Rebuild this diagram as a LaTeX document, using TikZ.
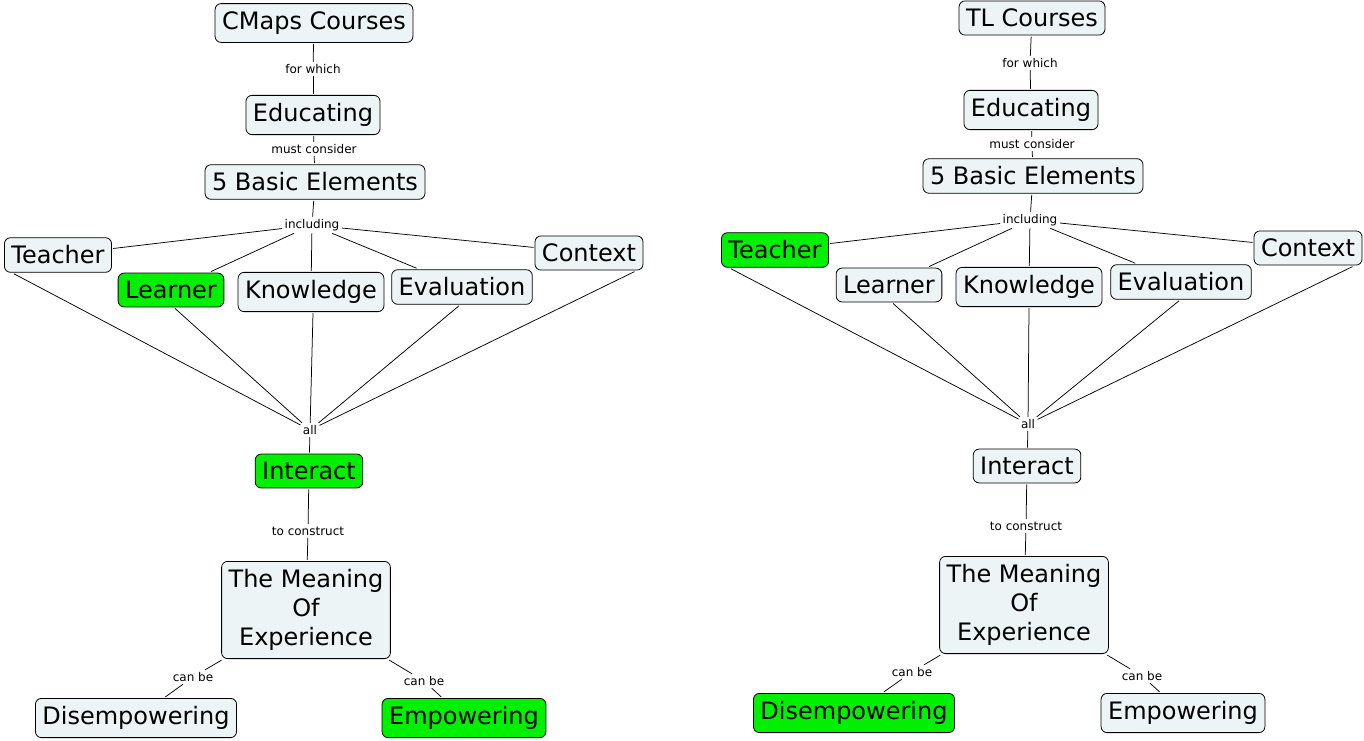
\documentclass[tikz,border=0pt]{standalone}
\usepackage{fontspec}
\setmainfont{DejaVu Sans}
\definecolor{cfill}{RGB}{237,244,246}
\definecolor{cgreen}{RGB}{0,240,0}
\begin{document}
\begin{tikzpicture}[x=1pt,y=-1pt,
  concept/.style={draw=black, line width=0.8pt, rounded corners=6pt, fill=cfill,
    inner xsep=7pt, inner ysep=8pt, outer sep=1.5pt,
    font=\fontsize{24}{29}\selectfont, align=center},
  hot/.style={concept, fill=cgreen},
  lbl/.style={inner sep=2.5pt, outer sep=0pt, font=\fontsize{12}{13}\selectfont},
  conn/.style={draw=black, line width=0.75pt}]
\useasboundingbox[fill=white] (0,0) rectangle (1364,740);

% ---------------- left map ----------------
\node[concept] (cc) at (314,23) {CMaps Courses};
\node[lbl] (fw) at (313,69) {for which};
\node[concept] (ed) at (313,115) {Educating};
\node[lbl] (mc) at (314,149) {must consider};
\node[concept] (be) at (315,182) {5 Basic Elements};
\node[lbl] (inc) at (312,225) {including};
\node[concept] (te) at (58,255) {Teacher};
\node[hot] (le) at (171,290) {Learner};
\node[concept] (kn) at (311,292) {Knowledge};
\node[concept] (ev) at (462,287) {Evaluation};
\node[concept] (co) at (589,253) {Context};
\node[lbl] (all) at (310,430) {all};
\node[hot] (in) at (309,471) {Interact};
\node[lbl] (tc) at (308,531) {to construct};
\node[concept] (me) at (306,610) {The Meaning\\Of\\Experience};
\node[lbl] (cba) at (193,677) {can be};
\node[lbl] (cbb) at (424,681) {can be};
\node[concept] (di) at (136,718) {Disempowering};
\node[hot] (em) at (464,718) {Empowering};

\draw[conn] (cc) -- (fw);
\draw[conn] (fw) -- (ed);
\draw[conn] (ed) -- (mc);
\draw[conn] (mc) -- (be);
\draw[conn] (be) -- (inc);
\draw[conn] (inc) -- (te);
\draw[conn] (inc) -- (le);
\draw[conn] (inc) -- (kn);
\draw[conn] (inc) -- (ev);
\draw[conn] (inc) -- (co);
\draw[conn] ([xshift=11pt]te.south west) -- (all);
\draw[conn] ([xshift=4pt]le.south) -- (all);
\draw[conn] ([xshift=2pt]kn.south) -- (all);
\draw[conn] ([xshift=-3pt]ev.south) -- (all);
\draw[conn] ([xshift=-10pt]co.south east) -- (all);
\draw[conn] (all) -- (in);
\draw[conn] (in) -- (tc);
\draw[conn] (tc) -- (me);
\draw[conn] (me) -- (cba);
\draw[conn] (cba) -- (di);
\draw[conn] (me) -- (cbb);
\draw[conn] (cbb) -- (em);

% ---------------- right map ----------------
\node[concept] (rcc) at (1032,18) {TL Courses};
\node[lbl] (rfw) at (1030,63) {for which};
\node[concept] (red) at (1031,110) {Educating};
\node[lbl] (rmc) at (1032,144) {must consider};
\node[concept] (rbe) at (1033,176) {5 Basic Elements};
\node[lbl] (rinc) at (1030,220) {including};
\node[hot] (rte) at (775,250) {Teacher};
\node[concept] (rle) at (889,285) {Learner};
\node[concept] (rkn) at (1029,287) {Knowledge};
\node[concept] (rev) at (1181,282) {Evaluation};
\node[concept] (rco) at (1308,248) {Context};
\node[lbl] (rall) at (1028,424) {all};
\node[concept] (rin) at (1027,466) {Interact};
\node[lbl] (rtc) at (1026,526) {to construct};
\node[concept] (rme) at (1024,605) {The Meaning\\Of\\Experience};
\node[lbl] (rcba) at (912,672) {can be};
\node[lbl] (rcbb) at (1142,676) {can be};
\node[hot] (rdi) at (854,713) {Disempowering};
\node[concept] (rem) at (1183,713) {Empowering};

\draw[conn] (rcc) -- (rfw);
\draw[conn] (rfw) -- (red);
\draw[conn] (red) -- (rmc);
\draw[conn] (rmc) -- (rbe);
\draw[conn] (rbe) -- (rinc);
\draw[conn] (rinc) -- (rte);
\draw[conn] (rinc) -- (rle);
\draw[conn] (rinc) -- (rkn);
\draw[conn] (rinc) -- (rev);
\draw[conn] (rinc) -- (rco);
\draw[conn] ([xshift=11pt]rte.south west) -- (rall);
\draw[conn] ([xshift=4pt]rle.south) -- (rall);
\draw[conn] (rkn.south) -- (rall);
\draw[conn] ([xshift=-2pt]rev.south) -- (rall);
\draw[conn] ([xshift=-11pt]rco.south east) -- (rall);
\draw[conn] (rall) -- (rin);
\draw[conn] (rin) -- (rtc);
\draw[conn] (rtc) -- (rme);
\draw[conn] (rme) -- (rcba);
\draw[conn] (rcba) -- (rdi);
\draw[conn] (rme) -- (rcbb);
\draw[conn] (rcbb) -- (rem);
\end{tikzpicture}
\end{document}
